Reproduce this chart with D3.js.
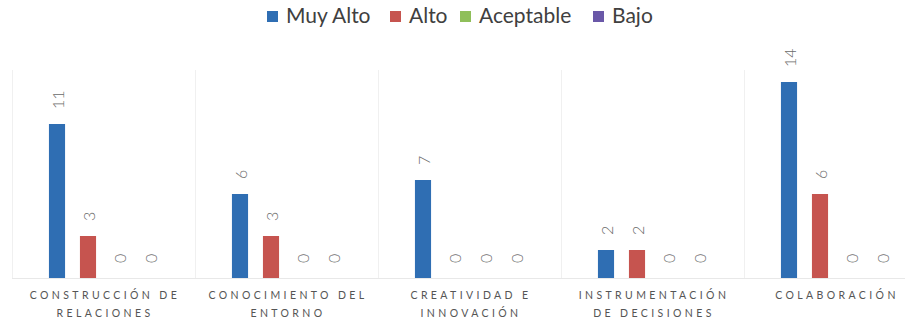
<!DOCTYPE html>
<html><head><meta charset="utf-8">
<script src="https://cdn.jsdelivr.net/npm/d3@7"></script>
<style>html,body{margin:0;padding:0;background:#fff;}svg{display:block;}</style>
</head><body>
<svg id="chart" width="915" height="324"></svg>
<script>
const categories = ["Construcción de\nrelaciones","Conocimiento del\nentorno","Creatividad e\ninnovación","Instrumentación\nde decisiones","Colaboración"];
const series = ["Muy Alto","Alto","Aceptable","Bajo"];
const colors = ["#2f6eb3","#c6544f","#8fbf5a","#6a58a8"];
const muyAlto = [11,6,7,2,14];
const alto = [3,3,0,2,6];
const aceptable = [0,0,0,0,0];
const bajo = [0,0,0,0,0];
const values = [muyAlto, alto, aceptable, bajo];

const svg = d3.select("#chart");
const baseY = 278, topY = 82;

const x0 = d3.scaleBand().domain(categories).range([12, 927]).padding(0);
const x1 = d3.scaleBand().domain(series).range([0, 124]).paddingInner(0.48).paddingOuter(0.24);
const y = d3.scaleLinear().domain([0, 14]).range([baseY, topY]);
const color = d3.scaleOrdinal().domain(series).range(colors);

// panel borders
const gridG = svg.append("g");
categories.forEach(c => {
  gridG.append("line").attr("x1", x0(c)+0.5).attr("x2", x0(c)+0.5).attr("y1", 70).attr("y2", baseY)
    .attr("stroke", "#f0f0f0").attr("stroke-width", 1);
});
gridG.append("line").attr("x1", 12).attr("x2", 905).attr("y1", baseY+0.5).attr("y2", baseY+0.5)
  .attr("stroke", "#e8e8e8");

const rows = [];
categories.forEach((c, ci) => series.forEach((s, si) => rows.push({c, s, v: values[si][ci]})));

const off = (x0.bandwidth() - 124) / 2;
const g = svg.append("g");
g.selectAll("rect").data(rows.filter(d => d.v > 0)).join("rect")
  .attr("x", d => x0(d.c) + off + x1(d.s))
  .attr("y", d => y(d.v))
  .attr("width", x1.bandwidth())
  .attr("height", d => baseY - y(d.v))
  .attr("fill", d => color(d.s));

g.selectAll("text.val").data(rows).join("text").attr("class", "val")
  .attr("transform", d => `translate(${x0(d.c) + off + x1(d.s) + x1.bandwidth()/2},${y(d.v) - 15}) rotate(-90)`)
  .attr("text-anchor", "start")
  .attr("dominant-baseline", "central")
  .attr("font-family", "Lato, sans-serif")
  .attr("font-weight", 300)
  .attr("font-size", 16)
  .attr("fill", "#6a6a6a")
  .text(d => d.v);

// category labels
const lab = svg.append("g");
categories.forEach(c => {
  const lines = c.toUpperCase().split("\n");
  lines.forEach((ln, i) => {
    lab.append("text")
      .attr("x", x0(c) + x0.bandwidth()/2 + 1.5)
      .attr("y", 299 + i*18)
      .attr("text-anchor", "middle")
      .attr("font-family", "Lato, sans-serif")
      .attr("font-size", 10.5)
      .attr("letter-spacing", 3.4)
      .attr("fill", "#555")
      .text(ln);
  });
});

// legend
const leg = svg.append("g");
const legX = [267, 390, 460, 593];
series.forEach((s, i) => {
  leg.append("rect").attr("x", legX[i]).attr("y", 11).attr("width", 11).attr("height", 11).attr("fill", color(s));
  leg.append("text").attr("x", legX[i] + 19).attr("y", 23)
    .attr("font-family", "Lato, sans-serif").attr("font-size", 21).attr("fill", "#404040").text(s);
});
</script>
</body></html>
